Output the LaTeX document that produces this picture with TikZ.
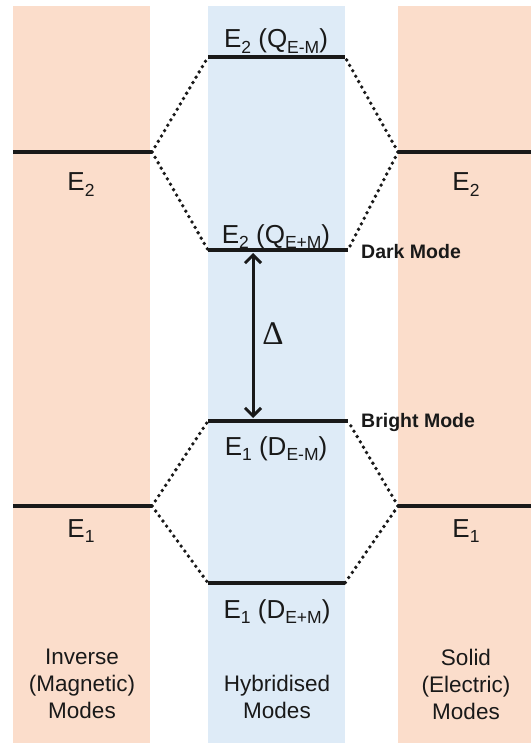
\documentclass[tikz,border=0pt]{standalone}
\usepackage{fontspec}
\setmainfont{Liberation Sans}
\newfontfamily\deltafont{Liberation Serif}
\usetikzlibrary{arrows.meta}
\definecolor{peach}{RGB}{251,221,203}
\definecolor{paleblue}{RGB}{222,235,247}
\definecolor{ink}{RGB}{25,25,25}
\newcommand\sbs[1]{\raisebox{-0.22em}{\fontsize{17.5}{17.5}\selectfont #1}}
\begin{document}
\begin{tikzpicture}[x=1pt,y=-1pt,
  level/.style={draw=ink,line width=3.4pt},
  link/.style={draw=ink,line width=3.8pt,line cap=round,dash pattern=on 0pt off 6.2pt},
  elabel/.style={text=ink,font=\fontsize{26}{30}\selectfont,inner sep=0pt,anchor=base},
  modelabel/.style={text=ink,font=\fontsize{22.5}{27}\selectfont,align=center,inner sep=0pt},
  marklabel/.style={text=ink,font=\fontsize{19.5}{22}\selectfont\bfseries,inner sep=0pt,anchor=base west},
  gap/.style={draw=ink,line width=3pt,{Straight Barb[length=8pt,width=16pt]}-{Straight Barb[length=8pt,width=16pt]}}
]
\useasboundingbox (0,0) rectangle (531,743);
% columns
\fill[peach] (13,6) rectangle (150,743);
\fill[paleblue] (208,6) rectangle (345,743);
\fill[peach] (398,6) rectangle (531,743);

% level coordinates
\coordinate (LE2a) at (13,152);  \coordinate (LE2b) at (152,152);
\coordinate (RE2a) at (398,152); \coordinate (RE2b) at (531,152);
\coordinate (LE1a) at (13,506);  \coordinate (LE1b) at (152,506);
\coordinate (RE1a) at (398,506); \coordinate (RE1b) at (531,506);
\coordinate (HQma) at (208,57);  \coordinate (HQmb) at (345,57);
\coordinate (HQpa) at (208,250); \coordinate (HQpb) at (348,250);
\coordinate (HDma) at (208,421); \coordinate (HDmb) at (348,421);
\coordinate (HDpa) at (208,583); \coordinate (HDpb) at (345,583);

% levels
\draw[level] (LE2a) -- (LE2b);
\draw[level] (RE2a) -- (RE2b);
\draw[level] (LE1a) -- (LE1b);
\draw[level] (RE1a) -- (RE1b);
\draw[level] (HQma) -- (HQmb);
\draw[level] (HQpa) -- (HQpb);
\draw[level] (HDma) -- (HDmb);
\draw[level] (HDpa) -- (HDpb);

% dotted links
\draw[link] (LE2b) -- (HQma);
\draw[link] (LE2b) -- (HQpa);
\draw[link] (RE2a) -- (HQmb);
\draw[link] (RE2a) -- (HQpb);
\draw[link] (LE1b) -- (HDma);
\draw[link] (LE1b) -- (HDpa);
\draw[link] (RE1a) -- (HDmb);
\draw[link] (RE1a) -- (HDpb);

% gap arrow
\coordinate (Atop) at (253,253);
\coordinate (Abot) at (253,418);
\draw[gap] (Atop) -- (Abot);
\node[text=ink,font=\deltafont\fontsize{33}{33}\selectfont,inner sep=0pt] (delta) at (273,334) {Δ};

% labels
\node[elabel] (tQm) at (276,48) {E\sbs{2} (Q\sbs{E-M})};
\node[elabel] (lE2) at (81,191) {E\sbs{2}};
\node[elabel] (rE2) at (466,191) {E\sbs{2}};
\node[elabel] (tQp) at (276,243) {E\sbs{2} (Q\sbs{E+M})};
\node[elabel] (tDm) at (276,455) {E\sbs{1} (D\sbs{E-M})};
\node[elabel] (lE1) at (81,537) {E\sbs{1}};
\node[elabel] (rE1) at (466,537) {E\sbs{1}};
\node[elabel] (tDp) at (277,618) {E\sbs{1} (D\sbs{E+M})};

\node[marklabel] (dark) at (361,258) {Dark Mode};
\node[marklabel] (bright) at (361,427) {Bright Mode};

\node[modelabel] (inv) at (82,684) {Inverse\\(Magnetic)\\Modes};
\node[modelabel] (hyb) at (277,697) {Hybridised\\Modes};
\node[modelabel] (sol) at (466,684) {Solid\\(Electric)\\Modes};
\end{tikzpicture}
\end{document}
